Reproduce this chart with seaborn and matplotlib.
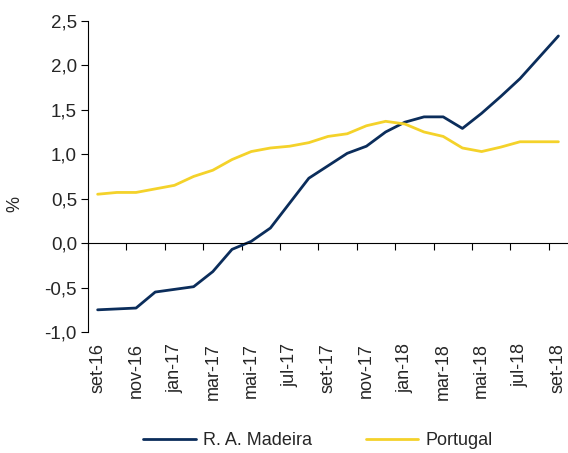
import matplotlib
matplotlib.use('Agg')
import matplotlib.pyplot as plt
import pandas as pd
import seaborn as sns

meses = ['set-16', 'out-16', 'nov-16', 'dez-16', 'jan-17', 'fev-17', 'mar-17',
         'abr-17', 'mai-17', 'jun-17', 'jul-17', 'ago-17', 'set-17', 'out-17',
         'nov-17', 'dez-17', 'jan-18', 'fev-18', 'mar-18', 'abr-18', 'mai-18',
         'jun-18', 'jul-18', 'ago-18', 'set-18']
madeira = [-0.75, -0.74, -0.73, -0.55, -0.52, -0.49, -0.32, -0.07, 0.02, 0.17,
           0.45, 0.73, 0.87, 1.01, 1.09, 1.25, 1.36, 1.42, 1.42, 1.29,
           1.46, 1.65, 1.85, 2.09, 2.33]
portugal = [0.55, 0.57, 0.57, 0.61, 0.65, 0.75, 0.82, 0.94, 1.03, 1.07,
            1.09, 1.13, 1.20, 1.23, 1.32, 1.37, 1.34, 1.25, 1.20, 1.07,
            1.03, 1.08, 1.14, 1.14, 1.14]
series = ['R. A. Madeira', 'Portugal']
cores = {'R. A. Madeira': '#0b2d5b', 'Portugal': '#f4d22a'}

df = pd.DataFrame({
    'i': list(range(len(meses))) * 2,
    'valor': madeira + portugal,
    'serie': [series[0]] * len(meses) + [series[1]] * len(meses),
})

sns.set_style('white')
plt.rcParams['font.family'] = ['Liberation Sans', 'DejaVu Sans']

fig = plt.figure(figsize=(5.68, 4.53), dpi=100)
ax = fig.add_axes([0.155, 0.267, 0.845, 0.687])

sns.lineplot(data=df, x='i', y='valor', hue='serie', palette=cores,
             hue_order=series, linewidth=2.0, ax=ax, legend=False)

ax.set_xlim(-0.5, len(meses) - 0.5)
ax.set_ylim(-1.0, 2.5)
ax.set_yticks([-1.0, -0.5, 0.0, 0.5, 1.0, 1.5, 2.0, 2.5])
ax.set_yticklabels([f'{v:.1f}'.replace('.', ',') for v in ax.get_yticks()], fontsize=13.5)

# eixo dos x na linha do zero, com os rótulos em baixo
ax.spines['bottom'].set_position(('data', 0))
ax.spines['top'].set_visible(False)
ax.spines['right'].set_visible(False)
ax.spines['left'].set_color('black')
ax.spines['bottom'].set_color('black')
ax.spines['left'].set_linewidth(0.8)
ax.spines['bottom'].set_linewidth(0.8)

ax.set_xticks([k + 0.5 for k in range(-1, len(meses), 2)], minor=False)
ax.set_xticklabels([])
ax.set_xticks(list(range(0, len(meses), 2)), minor=True)
ax.set_xticklabels(meses[::2], minor=True, rotation=90, fontsize=13,
                   va='top', ha='center')
ax.tick_params(axis='x', which='major', direction='out', length=5, width=0.8,
               color='black', bottom=True)
ax.tick_params(axis='x', which='minor', length=0, pad=72, bottom=True)
ax.tick_params(axis='y', direction='out', length=5, width=0.8, color='black',
               left=True, pad=3)

ax.set_xlabel('')
ax.set_ylabel('%', fontsize=13)
ax.yaxis.set_label_coords(-0.135, 0.41)

handles = [plt.Line2D([], [], color=cores[s], linewidth=2.0) for s in series]
fig.legend(handles, series, loc='lower center', bbox_to_anchor=(0.56, -0.028),
           ncol=2, frameon=False, fontsize=13, handlelength=2.9,
           columnspacing=3.0, handletextpad=0.4)

plt.savefig('out.png', dpi=100)
plt.close()
